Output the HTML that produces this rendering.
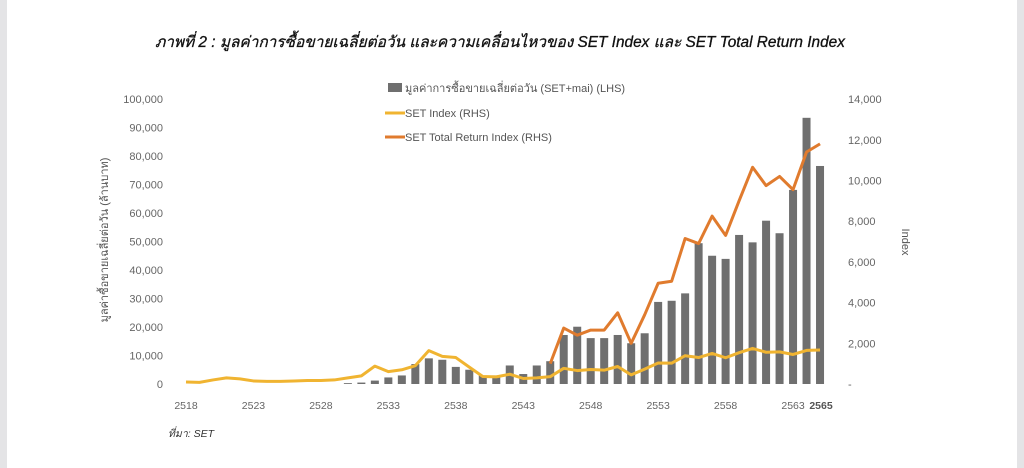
<!DOCTYPE html>
<html><head><meta charset="utf-8"><style>
html,body{margin:0;padding:0;background:#fff;width:1024px;height:468px;overflow:hidden}
.l{position:absolute;left:0;top:0;width:7px;height:468px;background:#e4e4e6}
.r{position:absolute;right:0;top:0;width:7px;height:468px;background:#e4e4e6}
svg{position:absolute;left:0;top:0}
text{font-family:"Liberation Sans","Noto Sans CJK SC",sans-serif}
</style></head><body>
<div class="l"></div><div class="r"></div>
<svg id="s" width="1024" height="468" xmlns="http://www.w3.org/2000/svg">
<text x="500" y="47" font-size="15.4" font-style="italic" text-anchor="middle" fill="#111" stroke="#111" stroke-width="0.3">ภาพที่ 2 : มูลค่าการซื้อขายเฉลี่ยต่อวัน และความเคลื่อนไหวของ SET Index และ SET Total Return Index</text>
<rect x="388" y="83" width="14" height="9" fill="#6f6f6f"/>
<text x="405" y="92" font-size="11" fill="#555">มูลค่าการซื้อขายเฉลี่ยต่อวัน (SET+mai) (LHS)</text>
<line x1="385" y1="113" x2="405" y2="113" stroke="#f0b431" stroke-width="3"/>
<text x="405" y="117" font-size="11" fill="#555">SET Index (RHS)</text>
<line x1="385" y1="137" x2="405" y2="137" stroke="#e07b2e" stroke-width="3"/>
<text x="405" y="141" font-size="11" fill="#555">SET Total Return Index (RHS)</text>
<text transform="translate(108,240) rotate(-90)" font-size="11" fill="#555" text-anchor="middle">มูลค่าซื้อขายเฉลี่ยต่อวัน (ล้านบาท)</text>
<text transform="translate(902,242) rotate(90)" font-size="11" fill="#555" text-anchor="middle">Index</text>
<text x="168" y="437" font-size="10.5" font-style="italic" fill="#333">ที่มา: SET</text>
<g id="g"></g>
</svg>
<script>
var g=document.getElementById('g'),h='';
function X(y){return 186+(y-2518)*13.49}
var Y0=384;
for(var i=0;i<=10;i++){var y=Y0-i*28.5;h+='<text x="163" y="'+(y+4)+'" font-size="11" fill="#666" text-anchor="end">'+(i==0?'0':(i*10)+',000')+'</text>';}
for(var i=0;i<=7;i++){var y=Y0-i*40.7;h+='<text x="848" y="'+(y+4)+'" font-size="11" fill="#666">'+(i==0?'-':(i*2)+',000')+'</text>';}
[2518,2523,2528,2533,2538,2543,2548,2553,2558,2563].forEach(function(y){h+='<text x="'+X(y)+'" y="409" font-size="10.5" fill="#666" text-anchor="middle">'+y+'</text>';});
h+='<text x="821" y="409" font-size="10.5" font-weight="bold" fill="#555" text-anchor="middle">2565</text>';
var bars={2530:.3,2531:.5,2532:1.2,2533:2.3,2534:3,2535:7,2536:9,2537:8.5,2538:6,2539:5,2540:3,2541:3,2542:6.5,2543:3.5,2544:6.5,2545:8,2546:17.2,2547:20.1,2548:16.1,2549:16.1,2550:17.2,2551:14.3,2552:17.8,2553:28.8,2554:29.2,2555:31.8,2556:49.4,2557:45,2558:43.9,2559:52.3,2560:49.7,2561:57.3,2562:52.9,2563:68.1,2564:93.4,2565:76.5};
for(var k in bars){var hh=bars[k]*2.85;h+='<rect x="'+(X(+k)-4)+'" y="'+(Y0-hh)+'" width="8" height="'+hh+'" fill="#6f6f6f"/>';}
var set=[100,80,200,300,250,150,130,130,150,170,170,200,300,400,880,610,700,900,1640,1360,1300,830,370,350,480,270,300,360,770,660,710,680,860,450,730,1030,1025,1390,1300,1500,1290,1540,1750,1560,1580,1450,1650,1670];
var p=set.map(function(v,i){return X(2518+i)+','+(Y0-v*40.7/2000)}).join(' ');
h+='<polyline points="'+p+'" fill="none" stroke="#f0b431" stroke-width="3" stroke-linejoin="round"/>';
var tri=[1000,2750,2400,2650,2650,3500,2000,3400,4950,5050,7150,6900,8250,7300,9000,10650,9750,10200,9550,11400,11800];
p=tri.map(function(v,i){return X(2545+i)+','+(Y0-v*40.7/2000)}).join(' ');
h+='<polyline points="'+p+'" fill="none" stroke="#e07b2e" stroke-width="3" stroke-linejoin="round"/>';
g.innerHTML=h;
</script>
</body></html>
